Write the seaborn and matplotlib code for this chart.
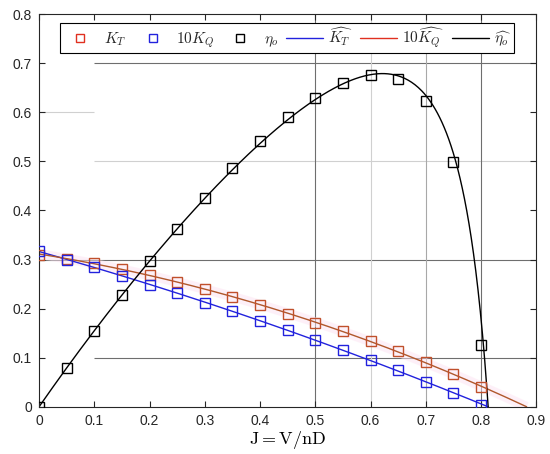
import numpy as np
import matplotlib
matplotlib.use("Agg")
import matplotlib.pyplot as plt
from matplotlib.lines import Line2D
import seaborn as sns

# open-water test points
J = [0.00, 0.05, 0.10, 0.15, 0.20, 0.25, 0.30, 0.35, 0.40,
     0.45, 0.50, 0.55, 0.60, 0.65, 0.70, 0.75, 0.80]
KT = [0.318, 0.300, 0.284, 0.266, 0.248, 0.231, 0.212, 0.195, 0.175,
      0.156, 0.136, 0.116, 0.095, 0.074, 0.051, 0.029, 0.004]
KQ10 = [0.310, 0.302, 0.293, 0.281, 0.268, 0.254, 0.239, 0.223, 0.207,
        0.190, 0.171, 0.154, 0.134, 0.114, 0.091, 0.066, 0.040]
ETA = [0.000, 0.080, 0.155, 0.227, 0.296, 0.362, 0.425, 0.487, 0.541,
       0.590, 0.630, 0.660, 0.675, 0.668, 0.622, 0.498, 0.126]

x_ticks = [0, 0.1, 0.2, 0.3, 0.4, 0.5, 0.6, 0.7, 0.8, 0.9]
y_ticks = [0, 0.1, 0.2, 0.3, 0.4, 0.5, 0.6, 0.7, 0.8]
tick_labels_x = ["0", "0.1", "0.2", "0.3", "0.4", "0.5", "0.6", "0.7", "0.8", "0.9"]
tick_labels_y = ["0", "0.1", "0.2", "0.3", "0.4", "0.5", "0.6", "0.7", "0.8"]

sns.set_style("ticks")
plt.rcParams["font.family"] = ["Liberation Sans", "DejaVu Sans"]
plt.rcParams["mathtext.fontset"] = "cm"

# quadratic fits of the thrust and torque coefficients
p_kt = np.polyfit(J, KT, 2)
p_kq = np.polyfit(J, KQ10, 2)
r_kt = max(r.real for r in np.roots(p_kt) if abs(r.imag) < 1e-9 and 0 < r.real < 1.5)
r_kq = max(r.real for r in np.roots(p_kq) if abs(r.imag) < 1e-9 and 0 < r.real < 1.5)
j_kt = np.linspace(0, r_kt, 400)
j_kq = np.linspace(0, r_kq, 400)
kt_fit = np.polyval(p_kt, j_kt)
kq_fit = np.polyval(p_kq, j_kq)
eta_fit = j_kt / (2 * np.pi) * kt_fit / (np.polyval(p_kq, j_kt) / 10.0)

BLUE = "#2222dd"
RED = "#e03020"
BROWN = "#b0582c"

fig = plt.figure(figsize=(5.5, 4.54), dpi=100)
ax = fig.add_axes([0.071, 0.104, 0.904, 0.865])

# partial grid like the original
gc_dark, gc_light = "#6e6e6e", "#d0d0d0"
ax.hlines([0.7, 0.1], 0.1, 0.9, color=gc_dark, lw=0.8, zorder=0)
ax.hlines([0.3], 0.0, 0.9, color=gc_dark, lw=0.8, zorder=0)
ax.hlines([0.5], 0.1, 0.9, color=gc_light, lw=0.8, zorder=0)
ax.hlines([0.6], 0.0, 0.1, color=gc_light, lw=0.8, zorder=0)
ax.vlines([0.5, 0.8], 0, 0.8, color=gc_dark, lw=0.8, zorder=0)
ax.vlines([0.6], 0, 0.8, color=gc_light, lw=0.8, zorder=0)
ax.vlines([0.7], 0, 0.8, color="#a8a8a8", lw=0.8, zorder=0)

# faint pink halo along the torque curve
ax.plot(j_kq, kq_fit, color="#fde3f2", lw=7, alpha=0.5, zorder=1, solid_capstyle="butt")

sns.lineplot(x=j_kt, y=kt_fit, color=BLUE, lw=1.0, ax=ax, sort=False, zorder=2)
sns.lineplot(x=j_kq, y=kq_fit, color=BROWN, lw=1.0, ax=ax, sort=False, zorder=2)
sns.lineplot(x=j_kt, y=eta_fit, color="black", lw=1.0, ax=ax, sort=False, zorder=2)

mk = dict(marker="s", linestyle="none", markersize=6.5, markerfacecolor="none",
          markeredgewidth=1.0, zorder=3)
ax.plot(J, KQ10, markeredgecolor="#c0502c", **mk)
ax.plot(J, KT, markeredgecolor=BLUE, **mk)
ax.plot(J, ETA, markeredgecolor="black", **mk)

ax.set_xlim(0, 0.9)
ax.set_ylim(0, 0.8)
ax.set_xticks(x_ticks)
ax.set_xticklabels(tick_labels_x)
ax.set_yticks(y_ticks)
ax.set_yticklabels(tick_labels_y)
ax.tick_params(direction="in", top=True, right=True, labelsize=10,
               colors="#262626", length=4, width=0.8, pad=5)
for s in ax.spines.values():
    s.set_color("#262626")
    s.set_linewidth(0.8)
ax.set_xlabel(r"$\mathrm{J{=}V/nD}$", fontsize=13, color="black", labelpad=1)
ax.set_ylabel("")

handles = [
    Line2D([], [], **{**mk, "markeredgecolor": RED, "markersize": 5.5}),
    Line2D([], [], **{**mk, "markeredgecolor": BLUE, "markersize": 5.5}),
    Line2D([], [], **{**mk, "markeredgecolor": "black", "markersize": 5.5}),
    Line2D([], [], color=BLUE, lw=1.0),
    Line2D([], [], color=RED, lw=1.0),
    Line2D([], [], color="black", lw=1.0),
]
labels = [r"$K_T$", r"$10K_Q$", r"$\eta_o$", r"$\widehat{K_T}$",
          r"$10\widehat{K_Q}$", r"$\widehat{\eta_o}$"]
leg = ax.legend(handles, labels, ncol=6, loc="upper center",
                bbox_to_anchor=(0.498, 0.976), frameon=True, fancybox=False,
                edgecolor="black", framealpha=1, fontsize=11,
                handlelength=2.4, handletextpad=0.35, columnspacing=0.5,
                borderpad=0.15, borderaxespad=0)
leg.get_frame().set_linewidth(0.8)
leg.set_zorder(5)

fig.savefig("out.png", dpi=100)
